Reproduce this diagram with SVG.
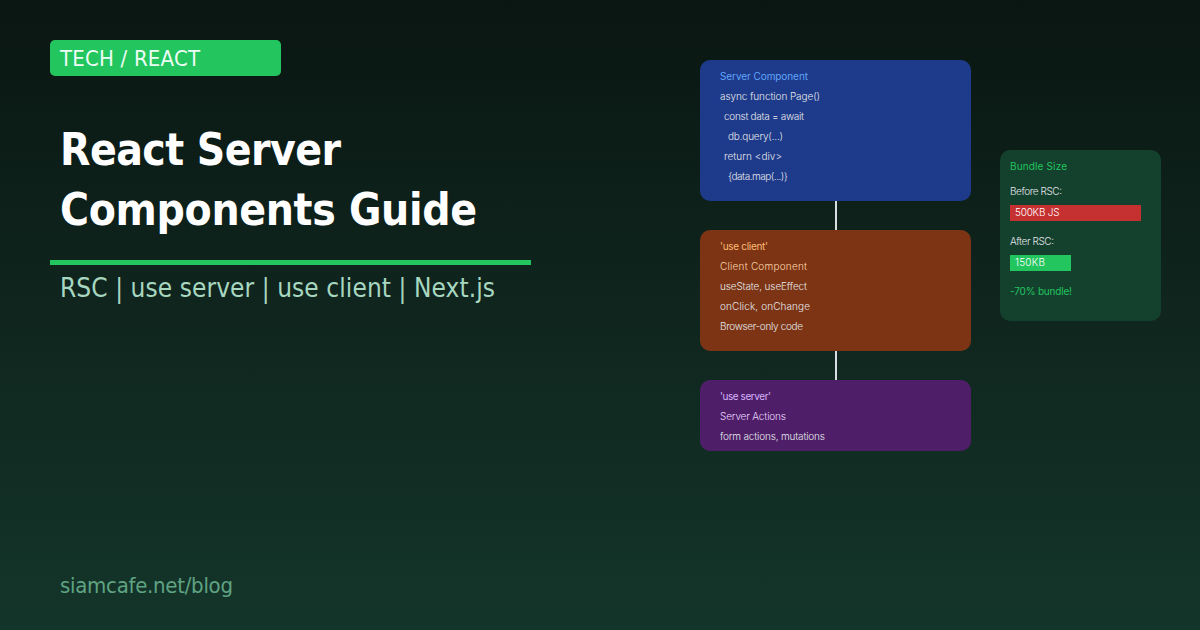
<svg xmlns="http://www.w3.org/2000/svg" width="1200" height="630" viewBox="0 0 1200 630">
<defs>
<linearGradient id="bg" x1="0" y1="0" x2="0" y2="1"><stop offset="0" stop-color="#0a1612"/><stop offset="1" stop-color="#14352a"/></linearGradient>
</defs>
<style>
.l{font-family:"DejaVu Sans Condensed","DejaVu Sans",sans-serif;font-stretch:condensed}
.s{font-family:"Inter",sans-serif;font-size:10px;font-weight:300;fill:#e5e7eb}
.a{font-weight:400}
.c{stroke:#d8dee0;stroke-width:2}
</style>
<rect width="1200" height="630" fill="url(#bg)"/>
<g id="badge"><rect x="50" y="40" width="231" height="36" rx="5" fill="#22c55e"/><text class="l" x="60" y="66" font-size="22" fill="#ecfdf5" textLength="140">TECH / REACT</text></g>
<g id="title"><text class="l" x="60" y="165" font-size="44" font-weight="700" fill="#ffffff" textLength="281">React Server</text><text class="l" x="60" y="225" font-size="44" font-weight="700" fill="#ffffff" textLength="417">Components Guide</text></g>
<rect x="50" y="260" width="481" height="5" fill="#22c55e"/>
<text class="l" x="60" y="297" font-size="26" fill="#a7d7c0" textLength="435">RSC | use server | use client | Next.js</text>
<text class="l" x="60" y="593" font-size="22" fill="#5fa383" textLength="173">siamcafe.net/blog</text>
<g id="connectors"><line class="c" x1="836" y1="201" x2="836" y2="230"/><line class="c" x1="836" y1="351" x2="836" y2="380"/></g>
<g id="server-component"><rect x="700" y="60" width="271" height="141" rx="10" fill="#1e3a8a"/>
<text class="s a" x="720" y="80" style="fill:#60a5fa" textLength="88">Server Component</text>
<text class="s" x="720" y="100" textLength="100">async function Page()</text>
<text class="s" x="724" y="120" textLength="80">const data = await</text>
<text class="s" x="728" y="140" textLength="55">db.query(...)</text>
<text class="s" x="724" y="160" textLength="58">return &lt;div&gt;</text>
<text class="s" x="728" y="180" textLength="60">{data.map(...)}</text></g>
<g id="client-component"><rect x="700" y="230" width="271" height="121" rx="10" fill="#7c3414"/>
<text class="s a" x="720" y="250" style="fill:#fdba74" textLength="48">'use client'</text>
<text class="s" x="720" y="270" style="fill:#fed7aa" textLength="87">Client Component</text>
<text class="s" x="720" y="290" textLength="87">useState, useEffect</text>
<text class="s" x="720" y="310" textLength="90">onClick, onChange</text>
<text class="s" x="720" y="330" textLength="83">Browser-only code</text></g>
<g id="server-actions"><rect x="700" y="380" width="271" height="71" rx="10" fill="#4e1f68"/>
<text class="s a" x="720" y="400" style="fill:#d8b4fe" textLength="51">'use server'</text>
<text class="s" x="720" y="420" style="fill:#e9d5ff" textLength="66">Server Actions</text>
<text class="s" x="720" y="440" textLength="105">form actions, mutations</text></g>
<g id="bundle"><rect x="1000" y="150" width="161" height="171" rx="10" fill="#14402e"/>
<text class="s a" x="1010" y="170" style="fill:#22c55e" textLength="57">Bundle Size</text>
<text class="s" x="1010" y="195" textLength="52">Before RSC:</text>
<rect x="1010" y="205" width="131" height="16" fill="#c53030"/>
<text class="s" x="1015" y="216" style="fill:#fff" textLength="44.5">500KB JS</text>
<text class="s" x="1010" y="245" textLength="44">After RSC:</text>
<rect x="1010" y="255" width="61" height="16" fill="#22c55e"/>
<text class="s" x="1015" y="266" style="fill:#fff" textLength="30">150KB</text>
<text class="s a" x="1010" y="295" style="fill:#22c55e" textLength="62">-70% bundle!</text></g>
</svg>
